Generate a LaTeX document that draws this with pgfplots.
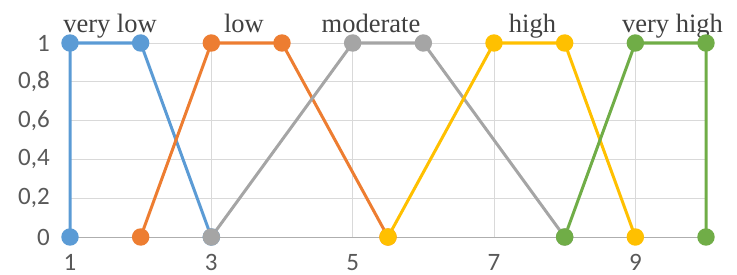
\documentclass[border=0pt]{standalone}
\usepackage{pgfplots}
\pgfplotsset{compat=1.18}
\usepackage{fontspec}
\setmainfont{Liberation Serif}
\newfontfamily\calibri{Carlito}
\definecolor{cblue}{HTML}{5B9BD5}
\definecolor{corange}{HTML}{ED7D31}
\definecolor{cgray}{HTML}{A5A5A5}
\definecolor{cyellow}{HTML}{FFC000}
\definecolor{cgreen}{HTML}{70AD47}
\definecolor{gridc}{HTML}{D9D9D9}
\definecolor{tickc}{HTML}{595959}
\definecolor{labc}{HTML}{404040}
\begin{document}
\begin{tikzpicture}
\begin{axis}[
  name=ax,
  scale only axis,
  width=636bp, height=194bp,
  xmin=1, xmax=10, ymin=0, ymax=1,
  xtick={1,3,5,7,9},
  ytick={0,0.2,0.4,0.6,0.8,1},
  grid=major,
  major grid style={gridc, line width=1bp},
  major tick length=0pt,
  axis x line*=bottom,
  axis y line*=left,
  x axis line style={-, draw=gridc!80!black, line width=1bp},
  y axis line style={draw=none},
  /pgf/number format/assume math mode=true,
  /pgf/number format/use comma,
  yticklabel style={font=\calibri\fontsize{25bp}{29bp}\selectfont, text=tickc, anchor=east, inner sep=0pt, xshift=-20bp},
  xticklabel style={font=\calibri\fontsize{25bp}{29bp}\selectfont, text=tickc, anchor=north, inner sep=0pt, yshift=-17bp},
  clip=false,
  every axis plot/.append style={line width=3bp, mark=*, mark size=7.2bp},
]
\addplot[cblue, mark options={fill=cblue, draw=cblue}] coordinates {(1,0) (1,1) (2,1) (3,0)};
\addplot[corange, mark options={fill=corange, draw=corange}] coordinates {(2,0) (3,1) (4,1) (5.5,0)};
\addplot[cgray, mark options={fill=cgray, draw=cgray}] coordinates {(3,0) (5,1) (6,1) (8,0)};
\addplot[cyellow, mark options={fill=cyellow, draw=cyellow}] coordinates {(5.5,0) (7,1) (8,1) (9,0)};
\addplot[cgreen, mark options={fill=cgreen, draw=cgreen}] coordinates {(8,0) (9,1) (10,1) (10,0)};
\begin{scope}[every node/.style={anchor=base, text=labc, font=\fontsize{26.5bp}{30bp}\selectfont, inner sep=0pt}]
\node at (axis cs:1.566,1.054) {very low};
\node at (axis cs:3.462,1.054) {low};
\node at (axis cs:5.26,1.054) {moderate};
\node at (axis cs:7.545,1.054) {high};
\node at (axis cs:9.526,1.054) {very high};
\end{scope}
\end{axis}
\pgfresetboundingbox
\path[use as bounding box] ([xshift=-70bp,yshift=-37bp]ax.south west) rectangle ([xshift=31bp,yshift=43bp]ax.north east);
\end{tikzpicture}
\end{document}
